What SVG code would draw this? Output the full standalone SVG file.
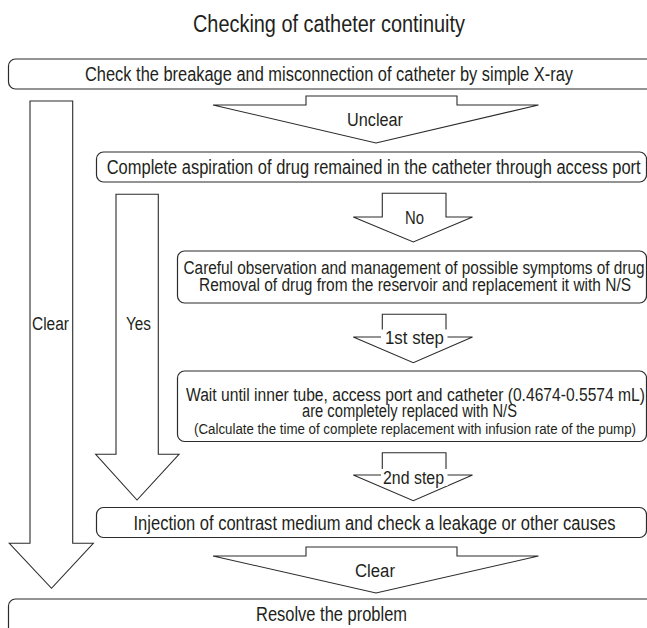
<svg xmlns="http://www.w3.org/2000/svg" width="647" height="628" viewBox="0 0 647 628">
  <style>
    .box { fill: #ffffff; stroke: #2b2b2b; stroke-width: 1.2; }
    .arr { fill: #ffffff; stroke: #2b2b2b; stroke-width: 1.1; stroke-linejoin: miter; }
    text { font-family: 'Liberation Sans Narrow', 'Liberation Sans', Arial, sans-serif; fill: #231f20; }
    .t { font-size: 19.5px; }
    .m { font-size: 18px; }
    .s { font-size: 15.5px; }
    .lbl { font-size: 18px; }
    .bg { fill: #ffffff; stroke: none; }
  </style>
  <rect width="647" height="628" fill="#ffffff"/>

  <text id="title" x="329" y="31.5" text-anchor="middle" font-size="23" textLength="272" lengthAdjust="spacingAndGlyphs">Checking of catheter continuity</text>

  <g id="connectors">
    <polygon class="arr" points="306,96 457,96 457,105 538.5,105 376,143 213,105 306,105"/>
    <polygon class="arr" points="30,101 72.7,101 72.7,543.3 93.3,543.3 51.5,588.3 9.3,543.3 30,543.3"/>
    <polygon class="arr" points="116,194.3 158.3,194.3 158.3,454.3 179,454.3 137,500 95.7,454.3 116,454.3"/>
    <polygon class="arr" points="382.3,193.3 446,193.3 446,217 472.5,217 413.3,242 353.3,217 382.3,217"/>
    <polygon class="arr" points="382.3,314.3 446,314.3 446,337 472.5,337 413.3,362.7 353.3,337 382.3,337"/>
    <polygon class="arr" points="382.3,452.7 446,452.7 446,475 472.5,475 413.3,500.7 353.3,475 382.3,475"/>
    <polygon class="arr" points="306,547 457,547 457,556 538.5,556 376,593 213,556 306,556"/>

    <text class="lbl" x="375" y="125.5" text-anchor="middle" textLength="56" lengthAdjust="spacingAndGlyphs">Unclear</text>
    <text class="lbl" x="50.5" y="329.5" text-anchor="middle" textLength="37" lengthAdjust="spacingAndGlyphs">Clear</text>
    <text class="lbl" x="138.5" y="329.5" text-anchor="middle" textLength="25" lengthAdjust="spacingAndGlyphs">Yes</text>
    <text class="lbl" x="414.5" y="224" text-anchor="middle" textLength="19" lengthAdjust="spacingAndGlyphs">No</text>
    <rect class="bg" x="381" y="329.5" width="66.5" height="17"/>
    <text class="lbl" x="414.5" y="343.5" text-anchor="middle" textLength="59" lengthAdjust="spacingAndGlyphs">1st step</text>
    <rect class="bg" x="381" y="469" width="66.5" height="17"/>
    <text class="lbl" x="413.5" y="483.5" text-anchor="middle" textLength="61" lengthAdjust="spacingAndGlyphs">2nd step</text>
    <text class="lbl" x="375" y="576.5" text-anchor="middle" textLength="40" lengthAdjust="spacingAndGlyphs">Clear</text>
  </g>

  <g id="node-xray">
    <rect class="box" x="8.5" y="59" width="660" height="30" rx="7"/>
    <text class="t" x="329" y="81" text-anchor="middle" textLength="488" lengthAdjust="spacingAndGlyphs">Check the breakage and misconnection of catheter by simple X-ray</text>
  </g>

  <g id="node-aspiration">
    <rect class="box" x="96.5" y="152" width="550" height="30" rx="7"/>
    <text class="t" x="373.7" y="173.5" text-anchor="middle" textLength="534" lengthAdjust="spacingAndGlyphs">Complete aspiration of drug remained in the catheter through access port</text>
  </g>

  <g id="node-observation">
    <rect class="box" x="177.5" y="251" width="469" height="52" rx="7"/>
    <text class="m" x="414" y="273.5" text-anchor="middle" textLength="461" lengthAdjust="spacingAndGlyphs">Careful observation and management of possible symptoms of drug</text>
    <text class="m" x="415" y="290.5" text-anchor="middle" textLength="432" lengthAdjust="spacingAndGlyphs">Removal of drug from the reservoir and replacement it with N/S</text>
  </g>

  <g id="node-wait">
    <rect class="box" x="177.5" y="371" width="469" height="70.5" rx="7"/>
    <text class="m" x="415.5" y="400.7" text-anchor="middle" textLength="459" lengthAdjust="spacingAndGlyphs">Wait until inner tube, access port and catheter (0.4674-0.5574 mL)</text>
    <text class="m" x="409.5" y="417.2" text-anchor="middle" textLength="215" lengthAdjust="spacingAndGlyphs">are completely replaced with N/S</text>
    <text class="s" x="415" y="433.5" text-anchor="middle" textLength="442" lengthAdjust="spacingAndGlyphs">(Calculate the time of complete replacement with infusion rate of the pump)</text>
  </g>

  <g id="node-injection">
    <rect class="box" x="96.5" y="507.5" width="550" height="30" rx="7"/>
    <text class="t" x="374.5" y="529.5" text-anchor="middle" textLength="482" lengthAdjust="spacingAndGlyphs">Injection of contrast medium and check a leakage or other causes</text>
  </g>

  <g id="node-resolve">
    <rect class="box" x="8.5" y="599" width="660" height="40" rx="7"/>
    <text class="t" x="331.5" y="621" text-anchor="middle" textLength="151" lengthAdjust="spacingAndGlyphs">Resolve the problem</text>
  </g>
</svg>
